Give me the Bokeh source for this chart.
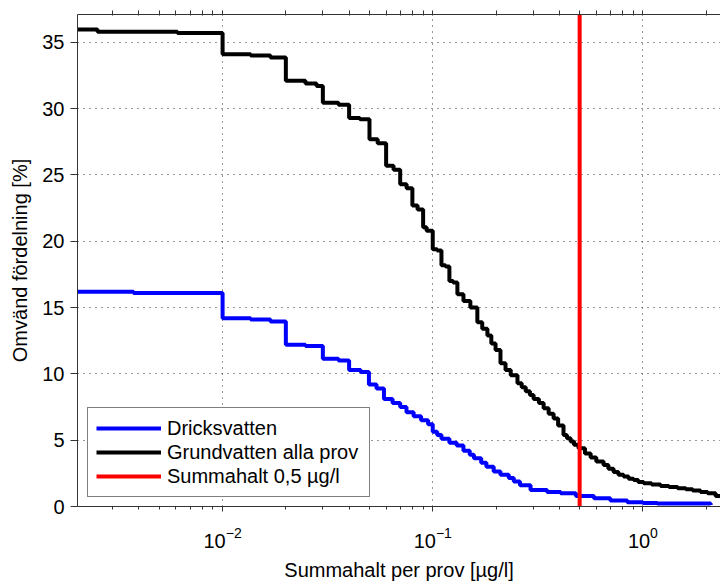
from bokeh.plotting import figure
from bokeh.models import Range1d, FixedTicker, LogAxis
from bokeh.embed import file_html
from bokeh.resources import INLINE

# ---- data ----
# Dricksvatten: step levels (reverse cumulative distribution, %)
dw_x = [0.00204, 0.00377, 0.01, 0.0136, 0.0169, 0.02, 0.0248, 0.03, 0.0356,
        0.04, 0.0454, 0.0497, 0.054, 0.0586, 0.0644, 0.07, 0.075, 0.0811,
        0.088, 0.095, 0.1, 0.105, 0.11, 0.12, 0.13, 0.14, 0.15, 0.157, 0.17,
        0.18, 0.195, 0.21, 0.23, 0.243, 0.26, 0.292, 0.35, 0.406, 0.48,
        0.585, 0.7, 0.843, 1.0, 1.171, 2.1]
dw_y = [16.2, 16.1, 14.2, 14.1, 13.95, 12.2, 12.1, 11.15, 11.0,
        10.3, 10.15, 9.2, 8.9, 8.1, 7.8, 7.5, 7.1, 6.8,
        6.5, 6.2, 5.64, 5.4, 5.1, 4.8, 4.6, 4.2, 3.9, 3.63, 3.3,
        3.0, 2.63, 2.4, 2.15, 1.88, 1.6, 1.25, 1.1, 1.0, 0.8,
        0.62, 0.45, 0.32, 0.27, 0.22, 0.12]

# Grundvatten alla prov
gw_x = [0.00204, 0.00254, 0.0061, 0.01, 0.0136, 0.0169, 0.02, 0.0248, 0.028,
        0.03, 0.0356, 0.04, 0.045, 0.05, 0.0547, 0.06, 0.0651, 0.07, 0.0751,
        0.08, 0.0847, 0.09, 0.0935, 0.1, 0.105, 0.11, 0.115, 0.12, 0.125,
        0.131, 0.140, 0.151, 0.163, 0.172, 0.182, 0.19, 0.199, 0.210, 0.222,
        0.235, 0.253, 0.265, 0.277, 0.29, 0.302, 0.32, 0.337, 0.356, 0.376,
        0.395, 0.419, 0.435, 0.453, 0.47, 0.494, 0.53, 0.564, 0.60, 0.65,
        0.685, 0.725, 0.765, 0.809, 0.855, 0.903, 0.95, 1.008, 1.1, 1.214,
        1.33, 1.463, 1.6, 1.724, 1.88, 2.032, 2.218, 2.5]
gw_y = [35.96, 35.8, 35.7, 34.1, 34.0, 33.85, 32.1, 31.9, 31.7,
        30.45, 30.3, 29.3, 29.2, 27.7, 27.4, 25.7, 25.4, 24.3, 24.0,
        22.7, 22.4, 21.05, 20.8, 19.4, 19.3, 18.2, 18.1, 17.0, 16.9,
        16.0, 15.5, 15.0, 13.9, 13.4, 12.9, 12.3, 11.8, 10.8, 10.3,
        9.9, 9.3, 9.0, 8.7, 8.4, 8.1, 7.8, 7.4, 7.0, 6.64,
        6.1, 5.4, 5.15, 4.9, 4.65, 4.4, 4.0, 3.7, 3.4, 3.13,
        2.85, 2.6, 2.4, 2.26, 2.1, 2.0, 1.85, 1.75, 1.65, 1.55,
        1.47, 1.38, 1.3, 1.2, 1.1, 1.0, 0.8, 0.8]

limit_x = 0.5  # Summahalt 0,5 µg/l

labels = ["Dricksvatten", "Grundvatten alla prov", "Summahalt 0,5 µg/l"]
x_label = "Summahalt per prov [µg/l]"
y_label = "Omvänd fördelning [%]"

x_start, x_end = 0.00204, 2.34
y_start, y_end = 0, 37.1
x_major = [0.01, 0.1, 1]
x_minor = [0.003, 0.004, 0.005, 0.006, 0.007, 0.008, 0.009,
           0.02, 0.03, 0.04, 0.05, 0.06, 0.07, 0.08, 0.09,
           0.2, 0.3, 0.4, 0.5, 0.6, 0.7, 0.8, 0.9, 2]
y_ticks = [0, 5, 10, 15, 20, 25, 30, 35]

FONT = "Liberation Sans"
FS = "20px"

p = figure(width=720, height=583, x_axis_type="log",
           x_range=Range1d(x_start, x_end), y_range=Range1d(y_start, y_end),
           output_backend="svg", toolbar_location=None,
           min_border_left=77, min_border_right=0, min_border_top=14,
           min_border_bottom=75)
p.outline_line_color = None
p.background_fill_color = "white"
p.border_fill_color = "white"

p.step(dw_x, dw_y, mode="after", line_color="#0000FF", line_width=4,
       legend_label=labels[0])
p.step(gw_x, gw_y, mode="after", line_color="#000000", line_width=4,
       legend_label=labels[1])
p.line([limit_x, limit_x], [y_start, y_end], line_color="#FF0000",
       line_width=4, legend_label=labels[2])

# axes
xt = FixedTicker(ticks=x_major, minor_ticks=x_minor)
yt = FixedTicker(ticks=y_ticks)
for ax in (p.xaxis[0], p.yaxis[0]):
    ax.axis_line_color = "#333333"
    ax.major_tick_line_color = "#333333"
    ax.minor_tick_line_color = "#333333"
    ax.major_tick_in = 0
    ax.minor_tick_in = 0
    ax.major_label_text_font = FONT
    ax.major_label_text_font_size = FS
    ax.major_label_text_color = "#000000"
    ax.axis_label_text_font = FONT
    ax.axis_label_text_font_size = FS
    ax.axis_label_text_font_style = "normal"
    ax.axis_label_text_color = "#000000"

p.xaxis[0].ticker = xt
p.xaxis[0].major_tick_out = 5
p.xaxis[0].minor_tick_out = 3
p.xaxis[0].major_label_standoff = 15
p.xaxis[0].axis_label = x_label
p.xaxis[0].axis_label_standoff = 8

p.yaxis[0].ticker = yt
p.yaxis[0].major_tick_out = 7
p.yaxis[0].minor_tick_line_color = None
p.yaxis[0].major_label_standoff = 6
p.yaxis[0].axis_label = y_label
p.yaxis[0].axis_label_standoff = 8

top = LogAxis(ticker=FixedTicker(ticks=[], minor_ticks=x_major + x_minor),
              axis_line_color="#333333", minor_tick_line_color="#333333",
              major_tick_line_color=None, minor_tick_out=4, minor_tick_in=1)
p.add_layout(top, "above")

# grids
p.xgrid.ticker = FixedTicker(ticks=x_major)
p.ygrid.ticker = yt
for g in (p.xgrid[0], p.ygrid[0]):
    g.grid_line_color = "#333333"
    g.grid_line_dash = "1 5"
    g.grid_line_width = 1

# legend
lg = p.legend[0]
lg.location = (10, 9)
lg.margin = 0
lg.padding = 8
lg.spacing = 0
lg.glyph_width = 65
lg.glyph_height = 24
lg.label_height = 24
lg.label_width = 194
lg.label_standoff = 6
lg.label_text_font = FONT
lg.label_text_font_size = FS
lg.label_text_color = "#000000"
lg.border_line_color = "#000000"
lg.border_line_width = 1
lg.background_fill_color = "white"
lg.background_fill_alpha = 1

open("out.html", "w").write(file_html(p, INLINE))
